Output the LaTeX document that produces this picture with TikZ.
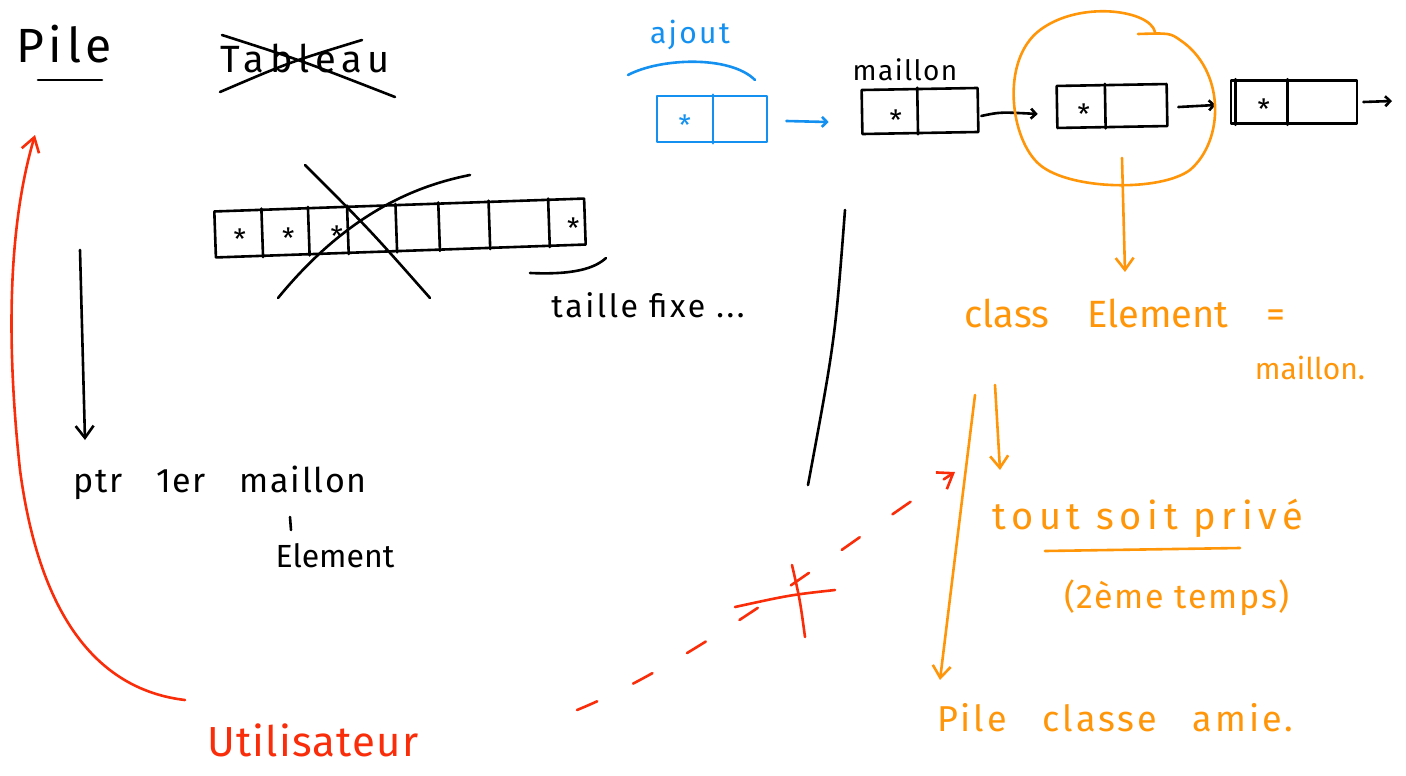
\documentclass[tikz,border=0pt]{standalone}
\usepackage{fontspec}
\setmainfont{Fira Sans}
\usetikzlibrary{arrows.meta,calc,shapes.geometric}
\definecolor{inkblue}{RGB}{20,145,240}
\definecolor{inkorange}{RGB}{255,150,10}
\definecolor{inkred}{RGB}{250,45,10}
\newcommand{\fs}[2]{\fontsize{#1}{#1}\selectfont\addfontfeature{LetterSpace=#2}}
\tikzset{
  ink/.style={line width=2.6pt, line cap=round, line join=round},
  txt/.style={inner sep=0pt, anchor=center},
  cellbox/.style={ink, draw, rectangle, inner sep=0pt},
  hook/.style={-{Straight Barb[length=5pt,width=10pt]}},
  vtip/.style={-{Straight Barb[length=12pt,width=18pt]}},
  star/.style={txt, font=\fs{28}{0}},
}
\begin{document}
\begin{tikzpicture}[x=1pt,y=-1pt]
\useasboundingbox (0,0) rectangle (1406,776);

% ---- Pile / Tableau
\node[txt, font=\fs{48}{10}] (pile) at (64,44) {Pile};
\draw[ink] (38,80) -- (102,80);
\node[txt, font=\fs{38}{15}] (tableau) at (305,58) {Tableau};
\draw[ink] (222,35) .. controls (300,60) .. (395,97);
\draw[ink] (220,92) .. controls (290,62) .. (362,40);

% ---- array (crossed)
\node[cellbox, minimum width=370, minimum height=46, rotate=2] (arr) at (400,228) {};
\foreach \t in {0.13,0.255,0.36,0.49,0.605,0.74,0.9}
  \draw[ink] ($(arr.south west)!\t!(arr.south east)$) -- ($(arr.north west)!\t!(arr.north east)$);
\foreach \t in {0.07,0.2,0.33,0.965}
  \node[star] at ($(arr.west)!\t!(arr.east)+(0,6)$) {*};
\draw[ink] (305,165) .. controls (370,230) .. (430,298);
\draw[ink] (278,298) .. controls (350,210) and (420,185) .. (470,175);
\draw[ink] (530,273) .. controls (575,275) and (595,268) .. (606,258);
\node[txt, font=\fs{32}{8}] (taille) at (648,305) {taille fixe ...};

% ---- blue ajout
\node[txt, font=\fs{30}{8}, text=inkblue] (ajout) at (690,35) {ajout};
\draw[ink, inkblue] (628,75) .. controls (660,58) and (730,55) .. (755,80);
\node[cellbox, draw=inkblue, minimum width=110, minimum height=46] (b0) at (712,119) {};
\draw[ink, inkblue] (b0.north) ++(1,0) -- ($(b0.south)+(1,0)$);
\node[star, text=inkblue] at ($(b0.west)+(29,6)$) {*};

% ---- maillons
\node[txt, font=\fs{28}{5}] (maillonlbl) at (905,70) {maillon};
\node[cellbox, minimum width=116, minimum height=44, rotate=1] (m1) at (920,111) {};
\draw[ink] ($(m1.north west)!0.48!(m1.north east)$) -- ($(m1.south west)!0.48!(m1.south east)$);
\node[star] at ($(m1.west)+(35,8)$) {*};
\node[cellbox, minimum width=110, minimum height=42, rotate=1] (m2) at (1112,106) {};
\draw[ink] ($(m2.north west)!0.44!(m2.north east)$) -- ($(m2.south west)!0.44!(m2.south east)$);
\node[star] at ($(m2.west)+(28,7)$) {*};
\node[cellbox, minimum width=126, minimum height=43] (m3) at (1294,102) {};
\draw[ink] ($(m3.north west)+(6,0)$) -- ($(m3.south west)+(6,0)$);
\draw[ink] ($(m3.north west)!0.45!(m3.north east)$) -- ($(m3.south west)!0.45!(m3.south east)$);
\node[star] at ($(m3.west)+(34,7)$) {*};
\coordinate (m3out) at (1392,101);

\draw[ink, inkblue, hook] (b0.east) ++(18,2) -- ($(m1.west)+(-32,10)$);
\draw[ink, hook] (m1.east) ++(2,6) .. controls (1000,112) .. ($(m2.west)+(-18,7)$);
\draw[ink, hook] (m2.east) ++(10,2) -- ($(m3.west)+(-14,3)$);
\draw[ink, hook] (m3.east) ++(5,0) -- (m3out);

% ---- orange circle
\draw[ink, inkorange] (1155,32) .. controls (1150,10) and (1080,0) .. (1040,30)
  .. controls (1000,60) and (1010,140) .. (1040,165)
  .. controls (1070,190) and (1160,192) .. (1190,170)
  .. controls (1225,140) and (1225,70) .. (1180,40)
  .. controls (1170,33) .. (1138,34);
\coordinate (circbot) at (1122,158);
\node[txt, font=\fs{38}{0}, text=inkorange] (classel) at (1125,313) {class\quad Element\quad =};
\node[txt, font=\fs{30}{0}, text=inkorange] (maillon2) at (1310,368) {maillon.};
\draw[ink, inkorange, vtip] (circbot) -- (1125,272);

% ---- orange lower part
\coordinate (oA) at (975,395);
\node[txt, font=\fs{38}{15}, text=inkorange] (prive) at (1148,518) {tout soit privé};
\draw[ink, inkorange] (1045,551) -- (1240,548);
\node[txt, font=\fs{34}{5}, text=inkorange] (temps) at (1177,598) {(2ème temps)};
\node[txt, font=\fs{36}{8}, text=inkorange] (amie) at (1115,718) {Pile\quad classe\quad amie.};
\draw[ink, inkorange, vtip] (oA) .. controls (962,500) .. (940,680);
\draw[ink, inkorange, vtip] (995,385) -- (1000,470);

% ---- black divider line
\draw[ink] (845,210) .. controls (835,340) .. (808,485);

% ---- left column
\coordinate (ptop) at (80,250);
\coordinate (pbot) at (85,440);
\node[txt, font=\fs{34}{5}] (ptr) at (220,483) {ptr\quad 1er\quad maillon};
\draw[ink, vtip] (ptop) -- (pbot);
\draw[ink] (290,517) -- (291,530);
\node[txt, font=\fs{32}{0}] (elem) at (335,556) {Element};

% ---- red
\node[txt, font=\fs{42}{3}, text=inkred] (util) at (313,740) {Utilisateur};
\coordinate (rstart) at (185,700);
\draw[ink, inkred, -{Straight Barb[length=14pt,width=18pt]}] (rstart) .. controls (100,690) and (40,620) .. (20,470)
  .. controls (5,330) and (10,220) .. (35,135);
\coordinate (dstart) at (577,710);
\draw[ink, inkred, dash pattern=on 22pt off 40pt, -{Straight Barb[length=14pt,width=20pt]}] (dstart) .. controls (700,660) and (850,540) .. (955,472);
\draw[ink, inkred] (735,607) .. controls (790,595) .. (835,590);
\draw[ink, inkred] (792,565) .. controls (800,600) .. (805,637);
\end{tikzpicture}
\end{document}
